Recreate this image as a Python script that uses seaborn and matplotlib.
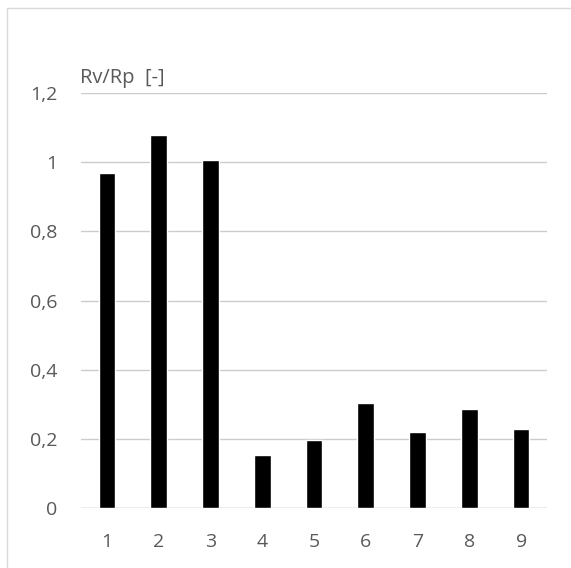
import matplotlib
matplotlib.use('Agg')
import matplotlib.pyplot as plt
import matplotlib.patches as patches
import seaborn as sns
import pandas as pd

# values
samples = ['1', '2', '3', '4', '5', '6', '7', '8', '9']
ratio = [0.97, 1.08, 1.005, 0.153, 0.198, 0.304, 0.219, 0.286, 0.229]
yticks = [0, 0.2, 0.4, 0.6, 0.8, 1.0, 1.2]
ytick_labels = ['0', '0,2', '0,4', '0,6', '0,8', '1', '1,2']

df = pd.DataFrame({'sample': samples, 'ratio': ratio})

sns.set_style('white')
plt.rcParams['font.family'] = ['Open Sans', 'DejaVu Sans']

fig = plt.figure(figsize=(5.71, 5.68), dpi=100)
ax = fig.add_axes([81 / 571, 1 - 508 / 568, 466 / 571, 415 / 568])

sns.barplot(data=df, x='sample', y='ratio', color='black', width=0.32,
            saturation=1, ax=ax, zorder=3)

ax.set_ylim(0, 1.2)
ax.set_yticks(yticks)
ax.set_yticklabels(ytick_labels)
ax.yaxis.grid(True, color='#cccccc', linewidth=1, zorder=0)
ax.set_xlabel('')
ax.set_ylabel('')
for s in ax.spines.values():
    s.set_visible(False)
ax.axhline(0, color='#cccccc', linewidth=1, zorder=1)
ax.tick_params(axis='both', length=0, labelsize=14, labelcolor='#595959')
ax.tick_params(axis='y', pad=17)
ax.tick_params(axis='x', pad=18)

fig.text(80 / 571, 1 - 78 / 568, 'Rv/Rp  [-]', fontsize=14.5, color='#595959',
         va='center', ha='left')

# outer chart border
fig.patches.append(patches.Rectangle((7 / 571, -0.05), 1.1, 1 - 8 / 568 + 0.05,
                                     transform=fig.transFigure, fill=False,
                                     edgecolor='#d9d9d9', linewidth=1))

fig.savefig('out.png', dpi=100)
